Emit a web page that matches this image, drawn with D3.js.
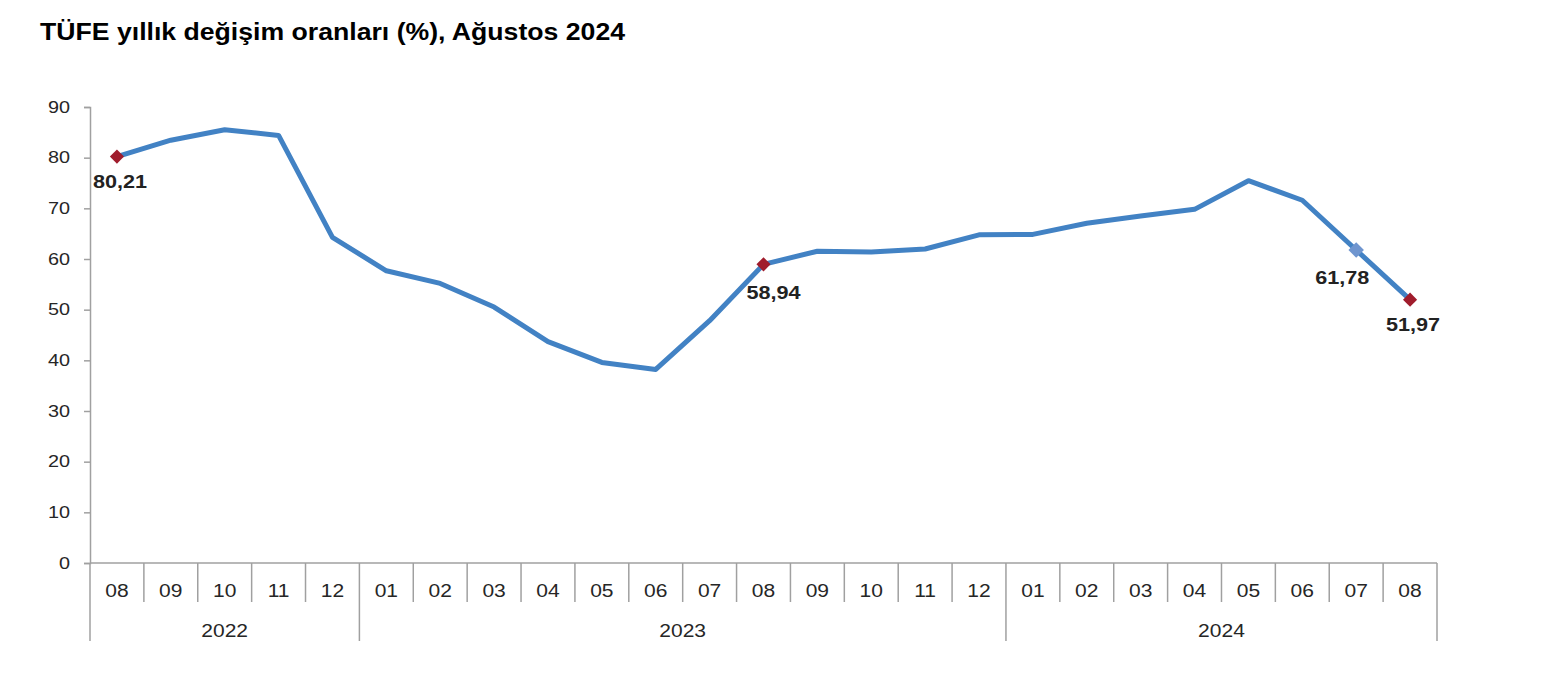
<!DOCTYPE html>
<html>
<head>
<meta charset="utf-8">
<script src="https://cdn.jsdelivr.net/npm/d3@7"></script>
<style>
  body { margin: 0; background: #fff; }
  svg text { font-family: "Liberation Sans", Arial, sans-serif; }
</style>
</head>
<body>
<div id="chart"></div>
<script>
(function(){

var width = 1546,
	height = 680;

// data
var months = ["08","09","10","11","12","01","02","03","04","05","06","07","08","09","10","11","12","01","02","03","04","05","06","07","08"];
var years = ["2022","2023","2024"];
var yearSpans = [[0,5],[5,17],[17,25]]; // [first index, end index) per year
var values = [80.21,83.45,85.51,84.39,64.27,57.68,55.18,50.51,43.68,39.59,38.21,47.83,58.94,61.53,61.36,61.98,64.77,64.86,67.07,68.50,69.80,75.45,71.60,61.78,51.97];
var yTicks = [0,10,20,30,40,50,60,70,80,90];
// labelled points: index, label text, where the label sits
var labelled = [
	{i: 0, text: "80,21", pos: "below"},
	{i: 12, text: "58,94", pos: "belowRight"},
	{i: 23, text: "61,78", pos: "belowLeft"},
	{i: 24, text: "51,97", pos: "below"}
];

// label offsets per position
var offsets = {
	below: [3, 31],
	belowRight: [10, 35],
	belowLeft: [-14, 34]
};

// the reference text is drawn a bit wider than normal
function widen(sel, k){
	sel.each(function(){
		var w = this.getComputedTextLength();
		d3.select(this)
			.attr("textLength", w * k)
			.attr("lengthAdjust", "spacingAndGlyphs")
	})
}

var svg = d3.select("#chart")
	.append("svg")
	.attr("width", width)
	.attr("height", height)

var axisColor = "#a0a0a0";

svg.append("text")
	.attr("x", 40)
	.attr("y", 40)
	.attr("font-size", 23)
	.attr("font-weight", "bold")
	.attr("fill", "#000")
	.attr("textLength", 585)
	.attr("lengthAdjust", "spacingAndGlyphs")
	.text("TÜFE yıllık değişim oranları (%), Ağustos 2024")

var x = d3.scaleBand()
	.domain(d3.range(months.length))
	.range([90, 1437])
	.padding(0)

var y = d3.scaleLinear()
	.domain([0, 90])
	.range([563, 107])

// y axis
var yAxis = svg.append("g")
	.attr("transform", "translate(90,0)")
	.call(d3.axisLeft(y).tickValues(yTicks).tickSize(6).tickPadding(14))
yAxis.select(".domain").attr("stroke", axisColor).attr("stroke-width", 1.5)
yAxis.selectAll(".tick line").attr("stroke", axisColor).attr("stroke-width", 1.5)
yAxis.selectAll(".tick text")
	.attr("font-size", 16.5)
	.attr("fill", "#262626")
	.style("font-family", "'Liberation Sans', Arial, sans-serif")
	.call(widen, 1.2)

// x axis baseline
var x0 = y(0);
svg.append("line")
	.attr("x1", 90).attr("x2", 1437)
	.attr("y1", x0).attr("y2", x0)
	.attr("stroke", axisColor).attr("stroke-width", 1.5)

// month separators
var bounds = d3.range(months.length + 1);
var yearBounds = [0, 5, 17, 25];
svg.selectAll(".sep")
	.data(bounds)
	.enter()
	.append("line")
	.attr("x1", function(d){ return d < months.length ? x(d) : x(d-1) + x.bandwidth(); })
	.attr("x2", function(d){ return d < months.length ? x(d) : x(d-1) + x.bandwidth(); })
	.attr("y1", x0)
	.attr("y2", function(d){ return yearBounds.indexOf(d) >= 0 ? 641 : 602; })
	.attr("stroke", axisColor)
	.attr("stroke-width", 1.5)

svg.selectAll(".month")
	.data(months)
	.enter()
	.append("text")
	.attr("x", function(d, i){ return x(i) + x.bandwidth()/2; })
	.attr("y", 597)
	.attr("text-anchor", "middle")
	.attr("font-size", 17.5)
	.attr("fill", "#262626")
	.text(function(d){ return d; })
	.call(widen, 1.2)

svg.selectAll(".year")
	.data(years)
	.enter()
	.append("text")
	.attr("x", function(d, i){
		var s = yearSpans[i];
		return (x(s[0]) + x(s[1]-1) + x.bandwidth()) / 2;
	})
	.attr("y", 637)
	.attr("text-anchor", "middle")
	.attr("font-size", 17.5)
	.attr("fill", "#262626")
	.text(function(d){ return d; })
	.call(widen, 1.2)

// line
var line = d3.line()
	.x(function(d, i){ return x(i) + x.bandwidth()/2; })
	.y(function(d){ return y(d); })

svg.append("path")
	.datum(values)
	.attr("d", line)
	.attr("fill", "none")
	.attr("stroke", "#4282c4")
	.attr("stroke-width", 5)
	.attr("stroke-linejoin", "round")

// markers
svg.selectAll(".marker")
	.data(labelled)
	.enter()
	.append("path")
	.attr("d", function(d){
		return d3.symbol().type(d3.symbolSquare).size(d.pos == "belowLeft" ? 120 : 100)();
	})
	.attr("transform", function(d){
		return "translate(" + (x(d.i) + x.bandwidth()/2) + "," + y(values[d.i]) + ") rotate(45)";
	})
	.attr("fill", function(d){ return d.pos == "belowLeft" ? "#6f95cf" : "#a01c2c"; })

svg.selectAll(".lbl")
	.data(labelled)
	.enter()
	.append("text")
	.attr("x", function(d){ return x(d.i) + x.bandwidth()/2 + offsets[d.pos][0]; })
	.attr("y", function(d){ return y(values[d.i]) + offsets[d.pos][1]; })
	.attr("text-anchor", "middle")
	.attr("font-size", 18)
	.attr("font-weight", "bold")
	.attr("fill", "#222")
	.text(function(d){ return d.text; })
	.call(widen, 1.2)

})();
</script>
</body>
</html>
